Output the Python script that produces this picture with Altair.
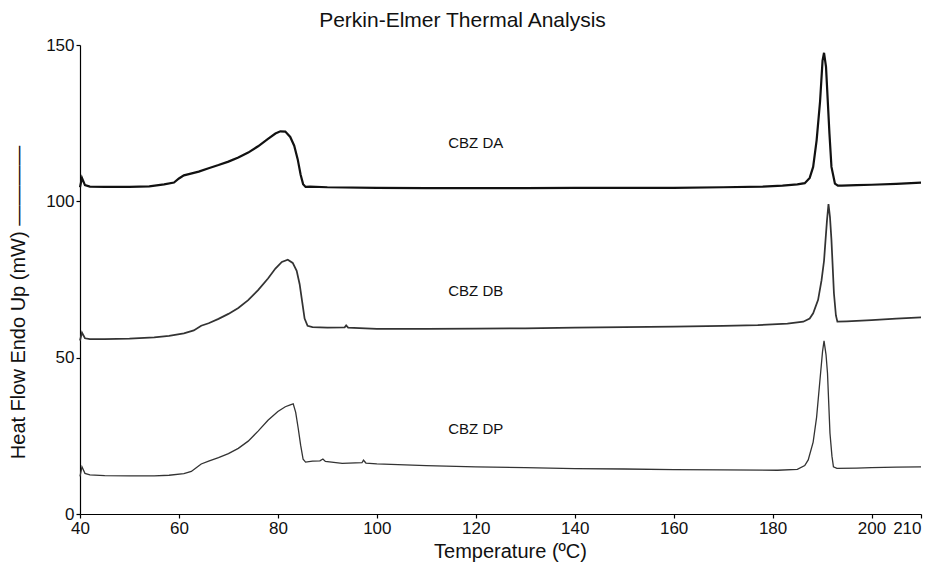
import altair as alt
import pandas as pd

# ---- data ----
da_t = [40.0, 40.4, 41.0, 42, 45, 50, 54, 57, 59, 60, 61, 62, 64, 66, 68, 70, 72, 74, 76, 78,
        79.5, 80.5, 81.5, 82.5, 83.3, 84, 84.6, 85.1, 85.6, 86.5, 90, 100, 110, 120, 130, 140,
        150, 160, 170, 178, 182, 185, 186.5, 187.5, 188.2, 188.9, 189.6, 190.1, 190.4, 190.8,
        191.5, 191.9, 192.6, 193.2, 194, 197, 200, 205, 210]
da_v = [104.5, 107.5, 105.2, 104.7, 104.6, 104.6, 104.8, 105.4, 106.0, 107.3, 108.3, 108.7,
        109.5, 110.6, 111.6, 112.7, 114.0, 115.6, 117.6, 120.0, 121.7, 122.4, 122.3, 120.6,
        117.8, 113.5, 108.5, 105.5, 104.6, 104.7, 104.5, 104.3, 104.2, 104.2, 104.2, 104.3,
        104.3, 104.3, 104.5, 104.7, 105.0, 105.4, 105.8, 107.5, 111.0, 119.5, 132.0, 145.0,
        147.5, 143.0, 121.5, 111.0, 105.7, 105.0, 105.0, 105.2, 105.3, 105.6, 106.0]

db_t = [40.0, 40.4, 41.0, 42, 45, 50, 55, 58, 61, 63, 64.5, 66, 68, 70, 72, 74, 76, 78, 79.5,
        80.8, 82, 83, 83.8, 84.4, 84.9, 85.4, 86.0, 87, 90, 93.5, 93.8, 94.2, 100, 110, 120,
        130, 140, 150, 160, 170, 177, 183, 186.2, 187.5, 188.2, 189.2, 189.9, 190.4, 190.7,
        191.0, 191.3, 191.6, 191.9, 192.4, 192.8, 193.1, 195, 200, 205, 210]
db_v = [55.5, 58.0, 56.2, 55.9, 55.9, 56.1, 56.5, 57.0, 57.8, 58.7, 60.2, 61.0, 62.4, 64.0,
        65.9, 68.4, 71.6, 75.3, 78.5, 80.6, 81.3, 80.3, 77.8, 73.5, 68.0, 62.5, 60.2, 59.8,
        59.6, 59.7, 60.3, 59.6, 59.2, 59.2, 59.3, 59.4, 59.6, 59.8, 59.9, 60.2, 60.4, 60.9,
        61.5, 62.5, 64.2, 68.5, 74.8, 81.0, 87.6, 94.0, 99.1, 95.0, 87.6, 70.6, 63.5, 61.5,
        61.6, 62.0, 62.5, 62.9]

dp_t = [40.0, 40.4, 41.0, 42, 45, 50, 55, 58, 61, 62.5, 63.5, 64.5, 66, 68, 70, 72, 74, 76, 78,
        80, 81.5, 82.5, 83.1, 83.6, 84.1, 84.6, 85.1, 85.6, 87, 88.5, 89.1, 89.6, 93, 97, 97.3,
        97.8, 100, 110, 120, 130, 140, 150, 160, 170, 181, 185, 186.5, 187.2, 188.2, 188.9,
        189.7, 190.1, 190.4, 190.8, 191.1, 191.6, 192.0, 192.3, 193, 197, 200, 205, 210]
dp_v = [12.0, 15.1, 13.0, 12.5, 12.3, 12.2, 12.2, 12.4, 12.9, 13.6, 14.8, 16.0, 16.9, 18.0,
        19.3, 21.0, 23.3, 26.5, 30.0, 32.8, 34.3, 34.9, 35.2, 32.5, 27.5, 22.0, 17.5, 16.6,
        16.9, 17.0, 17.6, 16.8, 16.2, 16.4, 17.2, 16.3, 16.0, 15.5, 15.1, 14.8, 14.5, 14.4,
        14.2, 14.1, 14.0, 14.3, 15.5, 17.3, 23.0, 31.0, 45.0, 52.0, 55.4, 51.0, 45.0, 25.8,
        18.5, 15.1, 14.6, 14.7, 14.8, 15.0, 15.1]

series_names = ["CBZ DA", "CBZ DB", "CBZ DP"]
label_t = [120, 120, 120]
label_v = [118.6, 71.4, 27.1]
x_ticks = [40, 60, 80, 100, 120, 140, 160, 180, 200, 210]
y_ticks = [0, 50, 100, 150]

rows = []
for name, ts, vs in zip(series_names, [da_t, db_t, dp_t], [da_v, db_v, dp_v]):
    for t, v in zip(ts, vs):
        rows.append({"series": name, "T": t, "HF": v})
df = pd.DataFrame(rows)
labels = pd.DataFrame({"series": series_names, "T": label_t, "HF": label_v})

FONT = "Liberation Sans"

x_enc = alt.X("T:Q", scale=alt.Scale(domain=[40, 210], nice=False, zero=False),
              axis=alt.Axis(values=x_ticks, format="d", title="Temperature (ºC)",
                            labelFlush=False,
                            labelAlign=alt.expr("datum.value == 210 ? 'right' : 'center'"),
                            titleX=430, titleY=43, titleBaseline="alphabetic",
                            titleAlign="center"))
y_enc = alt.Y("HF:Q", scale=alt.Scale(domain=[0, 150], nice=False),
              axis=alt.Axis(values=y_ticks, title="Heat Flow Endo Up (mW)   ————",
                            titleX=-62, titleY=257, titleAngle=-90,
                            titleBaseline="middle", titleAlign="center"))

lines = alt.Chart(df).mark_line(interpolate="linear").encode(
    x=x_enc,
    y=y_enc,
    color=alt.Color("series:N", scale=alt.Scale(domain=series_names,
                                                range=["#111111", "#333333", "#333333"]),
                    legend=None),
    strokeWidth=alt.StrokeWidth("series:N", scale=alt.Scale(domain=series_names,
                                                            range=[2.2, 1.3, 1.3]),
                                legend=None),
)

texts = alt.Chart(labels).mark_text(font=FONT, fontSize=15, color="#111111").encode(
    x="T:Q", y="HF:Q", text="series:N")

chart = alt.layer(lines, texts).properties(
    width=841, height=469,
    autosize=alt.AutoSizeParams(type="none"),
    padding={"left": 72, "top": 37, "right": 5, "bottom": 48},
    title=alt.TitleParams("Perkin-Elmer Thermal Analysis", anchor="middle", frame="group",
                          dx=-38, offset=5, fontSize=21, font=FONT, fontWeight="normal",
                          color="#111111"),
).configure_view(stroke=None).configure_axis(
    grid=False, domainColor="black", tickColor="black", labelColor="#111111",
    titleColor="#111111", labelFont=FONT, titleFont=FONT, labelFontSize=17,
    titleFontSize=20, titleFontWeight="normal", tickSize=4, labelPadding=2,
    domainWidth=1.2, tickWidth=1.2,
)

chart.save("out.html", embed_options={"renderer": "svg", "actions": False})
